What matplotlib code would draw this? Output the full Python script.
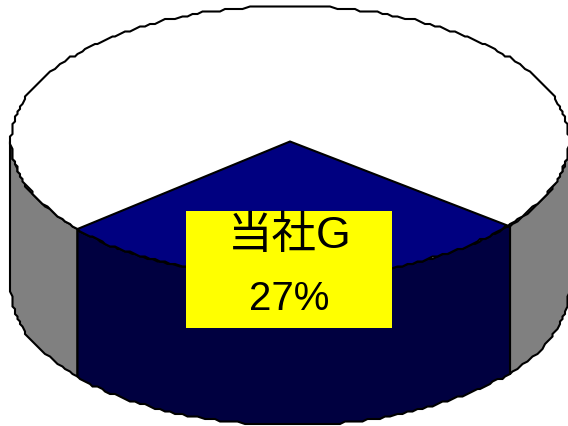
import numpy as np
import matplotlib
matplotlib.use('Agg')
import matplotlib.pyplot as plt

# shares of the pie, percent
labels = ['当社G', '他社']
shares = [27, 73]

cx, cy = 290, 142.5  # centre of the top face, pixels
rx, ry = 279, 135.5
depth = 148
step = 2.5  # outline is snapped to this grid, gives the rough edge
front_spread = 1.045  # near side of the disc looks wider in perspective
offset = 1.0  # wedge sits a little right of straight down, degrees

fig = plt.figure(figsize=(5.68, 4.27), dpi=100)
ax = fig.add_axes([0, 0, 1, 1])
ax.set_xlim(0, 568)
ax.set_ylim(427, 0)
ax.axis('off')


def rim(a0, a1, dy=0):
    # a measured from straight down, growing towards the right
    a = np.radians(np.linspace(a0, a1, max(2, int(abs(a1 - a0) / 1.2))))
    x = cx + rx * np.sin(a)
    y = cy + dy + ry * np.cos(a)
    return np.round(x / step) * step, np.round(y / step) * step


half = shares[0] / 100 * 360 / 2 * front_spread
left = offset - half
right = offset + half
lw = 1.5

# grey side walls
for a0, a1 in [(-90, left), (right, 90)]:
    x, y = rim(a0, a1)
    xb, yb = rim(a0, a1, depth)
    ax.fill(np.r_[x, xb[::-1]], np.r_[y, yb[::-1]], fc='#808080', ec='black', lw=lw, zorder=1)

# dark front of the wedge
x, y = rim(left, right)
xb, yb = rim(left, right, depth)
ax.fill(np.r_[x, xb[::-1]], np.r_[y, yb[::-1]], fc='#000040', ec='black', lw=lw, zorder=2)

# white top
x, y = rim(-180, 180)
ax.fill(x, y, fc='white', ec='black', lw=lw, zorder=3)

# wedge on top
x, y = rim(left, right)
ax.fill(np.r_[cx, x], np.r_[cy, y], fc='#000080', ec='black', lw=lw, zorder=4)

# label box
ax.fill([186, 392, 392, 186], [212, 212, 329, 329], fc='#ffff00', ec='none', zorder=5)
fam = ['Liberation Sans', 'Noto Sans CJK JP']
ax.text(290, 236, labels[0], ha='center', va='center', fontsize=32, family=fam, zorder=6)
ax.text(289, 299, f'{shares[0]}%', ha='center', va='center', fontsize=29, family=fam, zorder=6)

fig.savefig('out.png', dpi=100)
